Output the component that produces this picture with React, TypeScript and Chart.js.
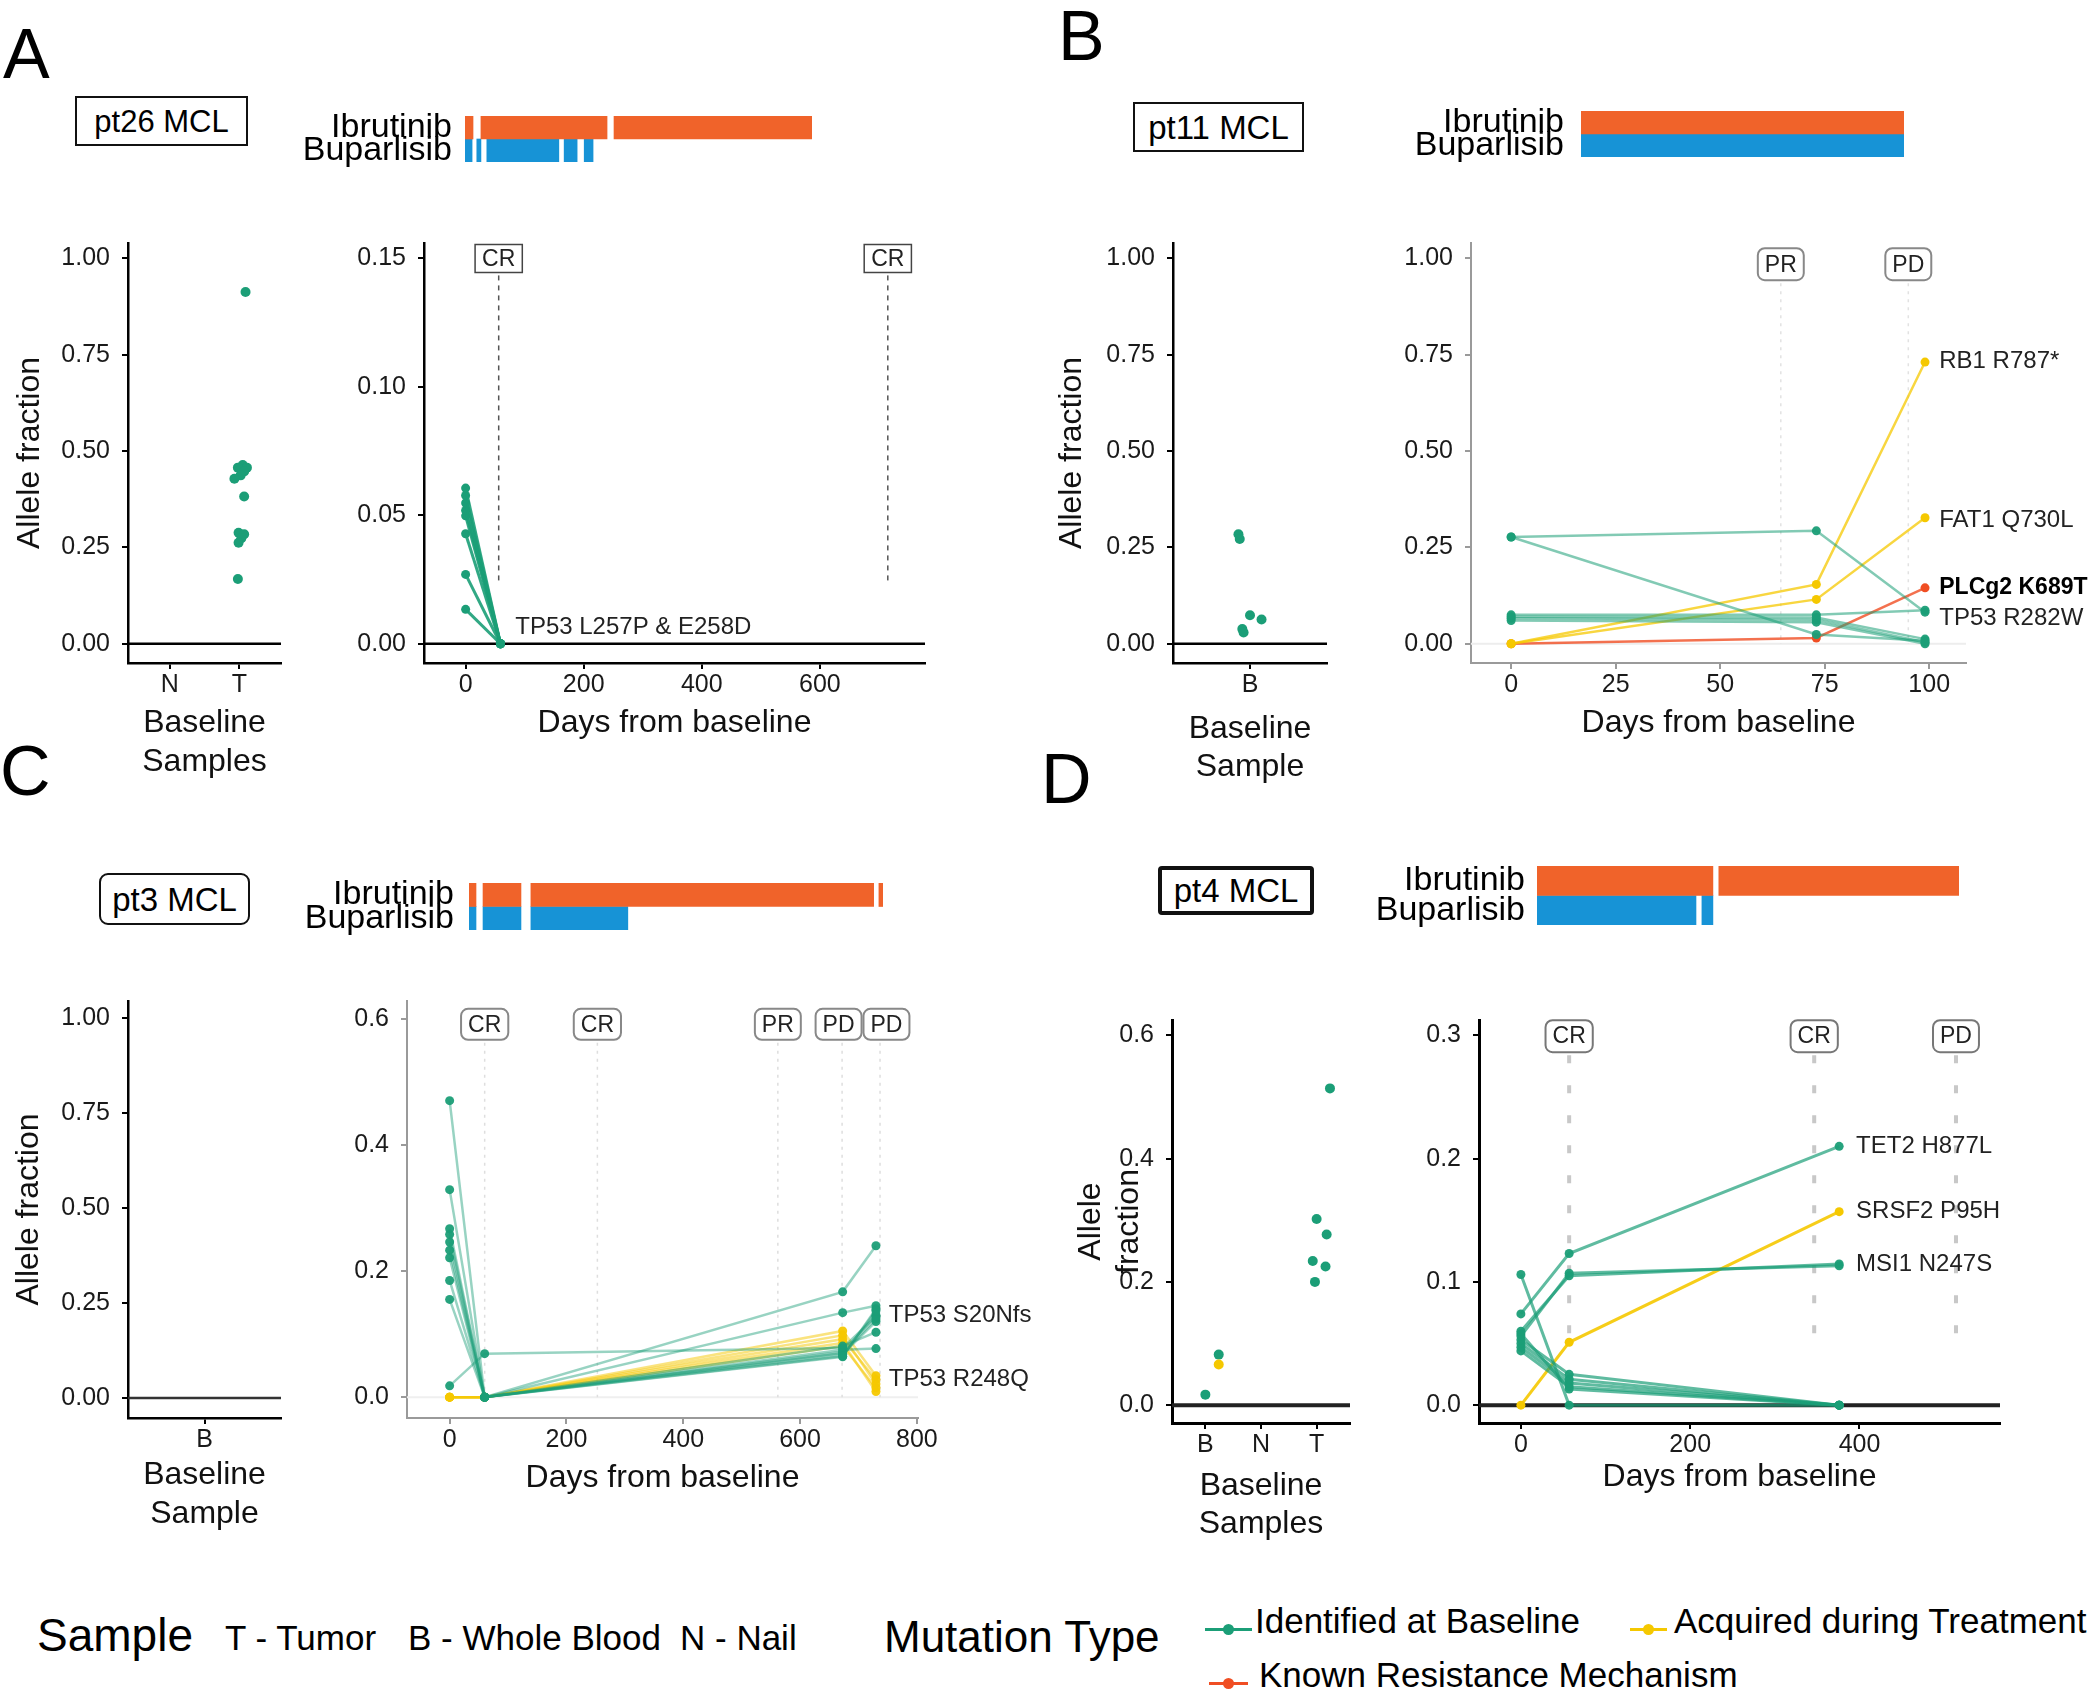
import React, { useEffect, useRef } from 'react';
import { Chart, registerables } from 'chart.js';

Chart.register(...registerables);

const FONT = "'Liberation Sans', Arial, Helvetica, sans-serif";
Chart.defaults.font.family = FONT;

// ---------------- colours ----------------
const GREEN = [27, 158, 119];
const YELLOW = [245, 200, 0];
const RED = [240, 78, 35];
const IBRU_COLOR = '#f0632a';
const BUPA_COLOR = '#1793d6';
const rgba = (c: number[], a: number) => `rgba(${c[0]},${c[1]},${c[2]},${a})`;

// ---------------- shared ----------------
const DRUGS = ['Ibrutinib', 'Buparlisib'];
const AF_TICKS = [0, 0.25, 0.5, 0.75, 1];
const AF_TICK_LABELS = ['0.00', '0.25', '0.50', '0.75', '1.00'];

// ---------------- Panel A : pt26 MCL ----------------
const A_TITLE = 'pt26 MCL';
const A_SAMPLES = ['N', 'T'];
const A_BASE_SAMPLE = ['T', 'T', 'T', 'T', 'T', 'T', 'T', 'T', 'T', 'T', 'T', 'T', 'T'];
const A_BASE_JITTER = [0.09, 0.05, -0.02, 0.11, 0.07, 0.02, -0.07, 0.07, -0.01, 0.07, 0.03, -0.01, -0.02];
const A_BASE_VAF = [0.913, 0.464, 0.457, 0.457, 0.447, 0.437, 0.428, 0.382, 0.288, 0.284, 0.274, 0.262, 0.168];
const A_DAYS = [0, 59];
const A_IDENTIFIED = [
  [0.0606, 0], [0.0577, 0], [0.0548, 0], [0.0519, 0],
  [0.0498, 0], [0.0428, 0], [0.027, 0], [0.0134, 0],
];
const A_Y_TICKS = [0, 0.05, 0.1, 0.15];
const A_Y_LABELS = ['0.00', '0.05', '0.10', '0.15'];
const A_X_TICKS = [0, 200, 400, 600];
const A_X_LABELS = ['0', '200', '400', '600'];
const A_RESP_DAY = [56, 715];
const A_RESP = ['CR', 'CR'];
const A_GENE = ['TP53 L257P & E258D'];
const A_GENE_DAY = [84];
const A_GENE_VAF = [0.0065];
const A_IBRUTINIB = [[0, 13.6], [27, 240.7], [252.5, 588]];
const A_BUPARLISIB = [[0, 12], [20, 27], [37, 159], [168, 190], [202, 217]];
const A_TREAT_SPAN = 588;

// ---------------- Panel B : pt11 MCL ----------------
const B_TITLE = 'pt11 MCL';
const B_SAMPLES = ['B'];
const B_BASE_SAMPLE = ['B', 'B', 'B', 'B', 'B', 'B'];
const B_BASE_JITTER = [-0.09, -0.08, 0.0, 0.09, -0.06, -0.05];
const B_BASE_VAF = [0.284, 0.272, 0.074, 0.063, 0.038, 0.029];
const B_DAYS = [0, 73, 99];
const B_IDENTIFIED = [
  [0.277, 0.293, 0.082], [0.277, 0.024, 0.008], [0.075, 0.075, 0.087],
  [0.07, 0.068, 0.012], [0.066, 0.062, 0.004], [0.06, 0.056, 0.0],
];
const B_ACQUIRED = [[0, 0.154, 0.731], [0, 0.115, 0.327]];
const B_RESISTANCE = [[0, 0.015, 0.145]];
const B_X_TICKS = [0, 25, 50, 75, 100];
const B_X_LABELS = ['0', '25', '50', '75', '100'];
const B_RESP_DAY = [64.5, 95];
const B_RESP = ['PR', 'PD'];
const B_GENE = ['RB1 R787*', 'FAT1 Q730L', 'PLCg2 K689T', 'TP53 R282W'];
const B_GENE_DAY = [102.4, 102.4, 102.4, 102.4];
const B_GENE_VAF = [0.733, 0.32, 0.145, 0.067];
const B_GENE_BOLD = [false, false, true, false];
const B_IBRUTINIB = [[0, 100]];
const B_BUPARLISIB = [[0, 100]];
const B_TREAT_SPAN = 100;

// ---------------- Panel C : pt3 MCL ----------------
const C_TITLE = 'pt3 MCL';
const C_SAMPLES = ['B'];
const C_DAYS = [0, 60, 673, 730];
const C_IDENTIFIED = [
  [0.47, 0, 0.065, 0.137], [0.329, 0, 0.07, 0.124], [0.267, 0, 0.167, 0.24],
  [0.258, 0, 0.134, 0.145], [0.246, 0, 0.081, 0.103], [0.233, 0, 0.075, 0.077],
  [0.221, 0, 0.072, 0.13], [0.185, 0, 0.068, 0.12], [0.155, 0, 0.064, 0.14],
  [0.018, 0.069, 0.078, 0.128],
];
const C_ACQUIRED = [
  [0, 0, 0.105, 0.034], [0, 0, 0.098, 0.021], [0, 0, 0.092, 0.028],
  [0, 0, 0.086, 0.009], [0, 0, 0.081, 0.015],
];
const C_Y_TICKS = [0, 0.2, 0.4, 0.6];
const C_Y_LABELS = ['0.0', '0.2', '0.4', '0.6'];
const C_X_TICKS = [0, 200, 400, 600, 800];
const C_X_LABELS = ['0', '200', '400', '600', '800'];
const C_RESP_DAY = [60, 253, 562, 672, 737];
const C_RESP_LABEL_DAY = [60, 253, 562, 666, 748];
const C_RESP = ['CR', 'CR', 'PR', 'PD', 'PD'];
const C_GENE = ['TP53 S20Nfs', 'TP53 R248Q'];
const C_GENE_DAY = [752, 752];
const C_GENE_VAF = [0.13, 0.028];
const C_IBRUTINIB = [[0, 12], [24, 89], [106, 693], [702, 709]];
const C_BUPARLISIB = [[0, 12], [24, 89], [106, 272]];
const C_TREAT_SPAN = 709;

// ---------------- Panel D : pt4 MCL ----------------
const D_TITLE = 'pt4 MCL';
const D_SAMPLES = ['B', 'N', 'T'];
const D_BASE_SAMPLE = ['B', 'B', 'T', 'T', 'T', 'T', 'T', 'T'];
const D_BASE_JITTER = [0, 0.24, 0.24, 0, 0.18, -0.07, 0.16, -0.03];
const D_BASE_VAF = [0.017, 0.082, 0.514, 0.302, 0.277, 0.234, 0.225, 0.2];
const D_BASE_ACQ_SAMPLE = ['B'];
const D_BASE_ACQ_JITTER = [0.24];
const D_BASE_ACQ_VAF = [0.066];
const D_DAYS = [0, 57, 376];
const D_IDENTIFIED = [
  [0.074, 0.123, 0.21], [0.06, 0.105, 0.1145], [0.056, 0.107, 0.113],
  [0.106, 0, 0], [0.053, 0.025, 0], [0.05, 0.021, 0], [0.047, 0.018, 0],
  [0.044, 0.015, 0], [0.058, 0.013, 0],
];
const D_ACQUIRED = [[0, 0.051, 0.157]];
const D_BASE_Y_TICKS = [0, 0.2, 0.4, 0.6];
const D_BASE_Y_LABELS = ['0.0', '0.2', '0.4', '0.6'];
const D_Y_TICKS = [0, 0.1, 0.2, 0.3];
const D_Y_LABELS = ['0.0', '0.1', '0.2', '0.3'];
const D_X_TICKS = [0, 200, 400];
const D_X_LABELS = ['0', '200', '400'];
const D_RESP_DAY = [57, 346.5, 514];
const D_RESP = ['CR', 'CR', 'PD'];
const D_GENE = ['TET2 H877L', 'SRSF2 P95H', 'MSI1 N247S'];
const D_GENE_DAY = [396, 396, 396];
const D_GENE_VAF = [0.21, 0.1575, 0.1145];
const D_IBRUTINIB = [[0, 208], [215, 499]];
const D_BUPARLISIB = [[0, 188], [195, 208]];
const D_TREAT_SPAN = 499;

// ---------------- helpers ----------------
type Rect = { x: number; y: number; w: number; h: number };
type Area = { L: number; T: number; R: number; B: number };
type Stroke = { color: string; width: number };
type SeriesStyle = { lineAlpha: number; pointAlpha: number; width: number; radius: number };

function series(days: number[], rows: number[][], color: number[], st: SeriesStyle) {
  return rows.map((vals) => ({
    data: days.map((d, i) => ({ x: d, y: vals[i] })),
    showLine: true,
    borderColor: rgba(color, st.lineAlpha),
    backgroundColor: rgba(color, st.pointAlpha),
    pointBackgroundColor: rgba(color, st.pointAlpha),
    borderWidth: st.width,
    pointRadius: st.radius,
    pointHoverRadius: st.radius,
    pointBorderWidth: 0,
    tension: 0,
    clip: false,
  }));
}

function jitter(samples: string[], sampleOf: string[], offsets: number[], vafs: number[], color: number[], radius: number) {
  return {
    data: vafs.map((v, i) => ({ x: samples.indexOf(sampleOf[i]) + 1 + offsets[i], y: v })),
    showLine: false,
    backgroundColor: rgba(color, 1),
    pointBackgroundColor: rgba(color, 1),
    pointBorderWidth: 0,
    pointRadius: radius,
    pointHoverRadius: radius,
    clip: false,
  };
}

interface RespSpec {
  lineDays: number[]; labelDays: number[]; labels: string[];
  labelVaf: number; lineEndVaf: number;
  lineColor: string; lineWidth: number; dash: number[];
  boxH: number; radius: number; boxBorder: string; boxBorderWidth: number;
}
interface GeneSpec { labels: string[]; days: number[]; vafs: number[]; bold?: boolean[] }
interface AxisSpec { min: number; max: number; ticks: number[]; labels: string[]; title?: string[]; titlePad?: number }
interface PlotSpec {
  canvas: Rect; area: Area; x: AxisSpec; y: AxisSpec;
  axis: Stroke; zero: Stroke; datasets: any[]; resp?: RespSpec; genes?: GeneSpec;
}

const lab = (ax: AxisSpec, v: number) => {
  const i = ax.ticks.indexOf(v);
  return i >= 0 ? ax.labels[i] : '';
};

function annotPlugin(s: PlotSpec) {
  return {
    id: 'annot',
    beforeDatasetsDraw(chart: any) {
      const { ctx, chartArea: a } = chart;
      const xs = chart.scales.x;
      const ys = chart.scales.y;
      ctx.save();
      const zy = ys.getPixelForValue(0);
      ctx.strokeStyle = s.zero.color;
      ctx.lineWidth = s.zero.width;
      ctx.beginPath();
      ctx.moveTo(a.left, zy);
      ctx.lineTo(a.right, zy);
      ctx.stroke();
      if (s.resp) {
        const r = s.resp;
        ctx.strokeStyle = r.lineColor;
        ctx.lineWidth = r.lineWidth;
        ctx.setLineDash(r.dash);
        const top = ys.getPixelForValue(r.labelVaf) + r.boxH / 2 + 3;
        const bot = ys.getPixelForValue(r.lineEndVaf);
        r.lineDays.forEach((d) => {
          const px = xs.getPixelForValue(d);
          ctx.beginPath();
          ctx.moveTo(px, top);
          ctx.lineTo(px, bot);
          ctx.stroke();
        });
      }
      ctx.restore();
    },
    afterDatasetsDraw(chart: any) {
      const { ctx } = chart;
      const xs = chart.scales.x;
      const ys = chart.scales.y;
      ctx.save();
      if (s.resp) {
        const r = s.resp;
        ctx.font = `23px ${FONT}`;
        ctx.textAlign = 'center';
        ctx.textBaseline = 'middle';
        r.labels.forEach((t, i) => {
          const px = xs.getPixelForValue(r.labelDays[i]);
          const py = ys.getPixelForValue(r.labelVaf);
          const w = ctx.measureText(t).width + 14;
          ctx.beginPath();
          if (r.radius > 0 && (ctx as any).roundRect) (ctx as any).roundRect(px - w / 2, py - r.boxH / 2, w, r.boxH, r.radius);
          else ctx.rect(px - w / 2, py - r.boxH / 2, w, r.boxH);
          ctx.fillStyle = '#ffffff';
          ctx.fill();
          ctx.strokeStyle = r.boxBorder;
          ctx.lineWidth = r.boxBorderWidth;
          ctx.stroke();
          ctx.fillStyle = '#222';
          ctx.fillText(t, px, py + 1);
        });
      }
      if (s.genes) {
        const g = s.genes;
        ctx.textAlign = 'left';
        ctx.textBaseline = 'middle';
        g.labels.forEach((t, i) => {
          const bold = g.bold ? g.bold[i] : false;
          ctx.font = `${bold ? 'bold 23px' : '24px'} ${FONT}`;
          ctx.fillStyle = bold ? '#000' : '#222';
          ctx.fillText(t, xs.getPixelForValue(g.days[i]), ys.getPixelForValue(g.vafs[i]));
        });
      }
      ctx.restore();
    },
  };
}

function plotConfig(s: PlotSpec) {
  const yw = s.area.L - s.canvas.x;
  const xh = s.canvas.y + s.canvas.h - s.area.B;
  const tickFont = { family: FONT, size: 25 };
  const titleFont = { family: FONT, size: 32 };
  return {
    type: 'scatter',
    data: { datasets: s.datasets },
    options: {
      responsive: false,
      animation: false,
      devicePixelRatio: 1,
      events: [],
      layout: {
        autoPadding: false,
        padding: { left: 0, top: s.area.T - s.canvas.y, right: s.canvas.x + s.canvas.w - s.area.R, bottom: 0 },
      },
      plugins: { legend: { display: false }, tooltip: { enabled: false } },
      scales: {
        x: {
          type: 'linear',
          min: s.x.min,
          max: s.x.max,
          afterBuildTicks: (sc: any) => { sc.ticks = s.x.ticks.map((v) => ({ value: v })); },
          afterFit: (sc: any) => { sc.height = xh; },
          ticks: {
            font: tickFont, color: '#1a1a1a', padding: 1, maxRotation: 0, minRotation: 0, autoSkip: false,
            callback: (v: number) => lab(s.x, v),
          },
          grid: { drawOnChartArea: false, drawTicks: true, tickLength: 6, color: s.axis.color, lineWidth: 2 },
          border: { display: true, color: s.axis.color, width: s.axis.width },
          title: {
            display: !!s.x.title, text: s.x.title, font: titleFont, color: '#111',
            padding: { top: 0, bottom: s.x.titlePad || 0 },
          },
        },
        y: {
          type: 'linear',
          min: s.y.min,
          max: s.y.max,
          afterBuildTicks: (sc: any) => { sc.ticks = s.y.ticks.map((v) => ({ value: v })); },
          afterFit: (sc: any) => { sc.width = yw; },
          ticks: {
            font: tickFont, color: '#1a1a1a', padding: 12, autoSkip: false,
            callback: (v: number) => lab(s.y, v),
          },
          grid: { drawOnChartArea: false, drawTicks: true, tickLength: 6, color: s.axis.color, lineWidth: 2 },
          border: { display: true, color: s.axis.color, width: s.axis.width },
          title: {
            display: !!s.y.title, text: s.y.title, font: titleFont, color: '#111',
            padding: { top: s.y.titlePad || 0, bottom: 0 },
          },
        },
      },
    },
    plugins: [annotPlugin(s)],
  };
}

interface TreatSpec { canvas: Rect; area: Area; span: number; ibru: number[][]; bupa: number[][]; labelPad: number }

function treatConfig(t: TreatSpec) {
  const mk = (row: number, segs: number[][], color: string) =>
    segs.map((seg) => ({
      data: DRUGS.map((_, i) => (i === row ? seg : null)),
      backgroundColor: color,
      borderWidth: 0,
      borderSkipped: false,
      grouped: false,
      barPercentage: 1,
      categoryPercentage: 1,
    }));
  return {
    type: 'bar',
    data: { labels: DRUGS, datasets: [...mk(0, t.ibru, IBRU_COLOR), ...mk(1, t.bupa, BUPA_COLOR)] },
    options: {
      indexAxis: 'y',
      responsive: false,
      animation: false,
      devicePixelRatio: 1,
      events: [],
      layout: {
        autoPadding: false,
        padding: {
          left: 0,
          top: t.area.T - t.canvas.y,
          right: t.canvas.x + t.canvas.w - t.area.R,
          bottom: t.canvas.y + t.canvas.h - t.area.B,
        },
      },
      plugins: { legend: { display: false }, tooltip: { enabled: false } },
      scales: {
        x: { type: 'linear', display: false, min: 0, max: t.span },
        y: {
          type: 'category',
          afterFit: (sc: any) => { sc.width = t.area.L - t.canvas.x; },
          grid: { display: false, drawTicks: false },
          border: { display: false },
          ticks: { font: { family: FONT, size: 34 }, color: '#000', padding: t.labelPad, autoSkip: false },
        },
      },
    },
  };
}

function ChartCanvas({ rect, make }: { rect: Rect; make: () => any }) {
  const ref = useRef<HTMLCanvasElement | null>(null);
  useEffect(() => {
    if (!ref.current) return;
    const chart = new Chart(ref.current, make());
    return () => chart.destroy();
  }, []);
  return (
    <canvas
      ref={ref}
      width={rect.w}
      height={rect.h}
      style={{ position: 'absolute', left: rect.x, top: rect.y, width: rect.w, height: rect.h, display: 'block' }}
    />
  );
}

// ---------------- plot definitions ----------------
const BLACK: Stroke = { color: '#000', width: 2.5 };
const GRAY_AXIS: Stroke = { color: '#9a9a9a', width: 2 };

const PLOTS: PlotSpec[] = [
  // A baseline
  {
    canvas: { x: 0, y: 213, w: 300, h: 573 },
    area: { L: 128, T: 243, R: 281, B: 663 },
    x: { min: 0.4, max: 2.6, ticks: A_SAMPLES.map((_, i) => i + 1), labels: A_SAMPLES, title: ['Baseline', 'Samples'], titlePad: 4.8 },
    y: { min: -0.05, max: 1.04, ticks: AF_TICKS, labels: AF_TICK_LABELS, title: ['Allele fraction'], titlePad: 10.8 },
    axis: BLACK, zero: BLACK,
    datasets: [jitter(A_SAMPLES, A_BASE_SAMPLE, A_BASE_JITTER, A_BASE_VAF, GREEN, 5)],
  },
  // A time
  {
    canvas: { x: 330, y: 213, w: 710, h: 534 },
    area: { L: 424, T: 243, R: 925, B: 663 },
    x: { min: -70.5, max: 778, ticks: A_X_TICKS, labels: A_X_LABELS, title: ['Days from baseline'], titlePad: 4.8 },
    y: { min: -0.0075, max: 0.156, ticks: A_Y_TICKS, labels: A_Y_LABELS },
    axis: BLACK, zero: BLACK,
    datasets: series(A_DAYS, A_IDENTIFIED, GREEN, { lineAlpha: 0.9, pointAlpha: 1, width: 3, radius: 4.5 }),
    resp: {
      lineDays: A_RESP_DAY, labelDays: A_RESP_DAY, labels: A_RESP, labelVaf: 0.15, lineEndVaf: 0.0238,
      lineColor: '#555', lineWidth: 1.5, dash: [5, 5], boxH: 28, radius: 0, boxBorder: '#444', boxBorderWidth: 1.5,
    },
    genes: { labels: A_GENE, days: A_GENE_DAY, vafs: A_GENE_VAF },
  },
  // B baseline
  {
    canvas: { x: 1045, y: 213, w: 300, h: 579 },
    area: { L: 1173, T: 243, R: 1327, B: 663 },
    x: { min: 0.4, max: 1.6, ticks: [1], labels: B_SAMPLES, title: ['Baseline', 'Sample'], titlePad: 5.3 },
    y: { min: -0.05, max: 1.04, ticks: AF_TICKS, labels: AF_TICK_LABELS, title: ['Allele fraction'], titlePad: 7.8 },
    axis: BLACK, zero: BLACK,
    datasets: [jitter(B_SAMPLES, B_BASE_SAMPLE, B_BASE_JITTER, B_BASE_VAF, GREEN, 5)],
  },
  // B time
  {
    canvas: { x: 1360, y: 213, w: 740, h: 534 },
    area: { L: 1471, T: 243, R: 1966, B: 663 },
    x: { min: -9.6, max: 108.8, ticks: B_X_TICKS, labels: B_X_LABELS, title: ['Days from baseline'], titlePad: 4.8 },
    y: { min: -0.05, max: 1.04, ticks: AF_TICKS, labels: AF_TICK_LABELS },
    axis: GRAY_AXIS, zero: { color: '#ededed', width: 2 },
    datasets: [
      ...series(B_DAYS, B_IDENTIFIED, GREEN, { lineAlpha: 0.55, pointAlpha: 0.95, width: 2.5, radius: 4.5 }),
      ...series(B_DAYS, B_ACQUIRED, YELLOW, { lineAlpha: 0.75, pointAlpha: 1, width: 2.5, radius: 4.5 }),
      ...series(B_DAYS, B_RESISTANCE, RED, { lineAlpha: 0.8, pointAlpha: 1, width: 2.5, radius: 4.5 }),
    ],
    resp: {
      lineDays: B_RESP_DAY, labelDays: B_RESP_DAY, labels: B_RESP, labelVaf: 0.985, lineEndVaf: 0.0,
      lineColor: '#e2e2e2', lineWidth: 1.5, dash: [3, 5], boxH: 32, radius: 7, boxBorder: '#888', boxBorderWidth: 2,
    },
    genes: { labels: B_GENE, days: B_GENE_DAY, vafs: B_GENE_VAF, bold: B_GENE_BOLD },
  },
  // C baseline
  {
    canvas: { x: 0, y: 970, w: 300, h: 568 },
    area: { L: 128, T: 1001, R: 281, B: 1418 },
    x: { min: 0.4, max: 1.6, ticks: [1], labels: C_SAMPLES, title: ['Baseline', 'Sample'], titlePad: 4.8 },
    y: { min: -0.0527, max: 1.046, ticks: AF_TICKS, labels: AF_TICK_LABELS, title: ['Allele fraction'], titlePad: 9.8 },
    axis: BLACK, zero: { color: '#333', width: 2.5 },
    datasets: [],
  },
  // C time
  {
    canvas: { x: 320, y: 970, w: 720, h: 532 },
    area: { L: 407, T: 1001, R: 918, B: 1418 },
    x: { min: -73, max: 802, ticks: C_X_TICKS, labels: C_X_LABELS, title: ['Days from baseline'], titlePad: 5.1 },
    y: { min: -0.033, max: 0.628, ticks: C_Y_TICKS, labels: C_Y_LABELS },
    axis: GRAY_AXIS, zero: { color: '#efefef', width: 2 },
    datasets: [
      ...series(C_DAYS, C_IDENTIFIED, GREEN, { lineAlpha: 0.45, pointAlpha: 0.95, width: 2.5, radius: 4.5 }),
      ...series(C_DAYS, C_ACQUIRED, YELLOW, { lineAlpha: 0.5, pointAlpha: 0.95, width: 2.5, radius: 4.5 }),
    ],
    resp: {
      lineDays: C_RESP_DAY, labelDays: C_RESP_LABEL_DAY, labels: C_RESP, labelVaf: 0.591, lineEndVaf: 0.0,
      lineColor: '#dedede', lineWidth: 1.5, dash: [3, 5], boxH: 31, radius: 7, boxBorder: '#888', boxBorderWidth: 2,
    },
    genes: { labels: C_GENE, days: C_GENE_DAY, vafs: C_GENE_VAF },
  },
  // D baseline
  {
    canvas: { x: 1060, y: 990, w: 300, h: 559 },
    area: { L: 1172, T: 1020, R: 1350, B: 1423 },
    x: { min: 0.4, max: 3.6, ticks: D_SAMPLES.map((_, i) => i + 1), labels: D_SAMPLES, title: ['Baseline', 'Samples'], titlePad: 5.3 },
    y: { min: -0.029, max: 0.625, ticks: D_BASE_Y_TICKS, labels: D_BASE_Y_LABELS, title: ['Allele', 'fraction'], titlePad: 11.8 },
    axis: { color: '#000', width: 3 }, zero: { color: '#222', width: 4 },
    datasets: [
      jitter(D_SAMPLES, D_BASE_ACQ_SAMPLE, D_BASE_ACQ_JITTER, D_BASE_ACQ_VAF, YELLOW, 5),
      jitter(D_SAMPLES, D_BASE_SAMPLE, D_BASE_JITTER, D_BASE_VAF, GREEN, 5),
    ],
  },
  // D time
  {
    canvas: { x: 1370, y: 990, w: 730, h: 511 },
    area: { L: 1479, T: 1020, R: 2000, B: 1423 },
    x: { min: -49.5, max: 566, ticks: D_X_TICKS, labels: D_X_LABELS, title: ['Days from baseline'], titlePad: 4.8 },
    y: { min: -0.0145, max: 0.3125, ticks: D_Y_TICKS, labels: D_Y_LABELS },
    axis: { color: '#000', width: 3 }, zero: { color: '#222', width: 4 },
    datasets: [
      ...series(D_DAYS, D_IDENTIFIED, GREEN, { lineAlpha: 0.7, pointAlpha: 0.95, width: 3, radius: 4.5 }),
      ...series(D_DAYS, D_ACQUIRED, YELLOW, { lineAlpha: 0.9, pointAlpha: 1, width: 3, radius: 4.5 }),
    ],
    resp: {
      lineDays: D_RESP_DAY, labelDays: D_RESP_DAY, labels: D_RESP, labelVaf: 0.2994, lineEndVaf: 0.053,
      lineColor: '#c8c8c8', lineWidth: 4, dash: [8, 22], boxH: 32, radius: 7, boxBorder: '#777', boxBorderWidth: 2,
    },
    genes: { labels: D_GENE, days: D_GENE_DAY, vafs: D_GENE_VAF },
  },
];

// canvases are taller than the bar area so the tick-label overflow padding never squeezes the bars
const TREATS: TreatSpec[] = [
  { canvas: { x: 280, y: 66, w: 550, h: 148 }, area: { L: 465, T: 116, R: 812, B: 162 }, span: A_TREAT_SPAN, ibru: A_IBRUTINIB, bupa: A_BUPARLISIB, labelPad: 13 },
  { canvas: { x: 1380, y: 61, w: 545, h: 148 }, area: { L: 1581, T: 111, R: 1904, B: 157 }, span: B_TREAT_SPAN, ibru: B_IBRUTINIB, bupa: B_BUPARLISIB, labelPad: 17 },
  { canvas: { x: 280, y: 833, w: 620, h: 149 }, area: { L: 469, T: 883, R: 883, B: 930 }, span: C_TREAT_SPAN, ibru: C_IBRUTINIB, bupa: C_BUPARLISIB, labelPad: 15 },
  { canvas: { x: 1340, y: 816, w: 640, h: 161 }, area: { L: 1537, T: 866, R: 1959, B: 925 }, span: D_TREAT_SPAN, ibru: D_IBRUTINIB, bupa: D_BUPARLISIB, labelPad: 12 },
];

// ---------------- HTML text helpers ----------------
function Txt({ x, top, size, children, bold }: { x: number; top: number; size: number; children: any; bold?: boolean }) {
  return (
    <div style={{ position: 'absolute', left: x, top, fontSize: size, lineHeight: 1, whiteSpace: 'nowrap', fontWeight: bold ? 700 : 400, color: '#000' }}>
      {children}
    </div>
  );
}

function PtBox({ x, y, w, h, border, radius, size, children }: any) {
  return (
    <div style={{
      position: 'absolute', left: x, top: y, width: w, height: h, boxSizing: 'border-box',
      border: `${border}px solid #111`, borderRadius: radius, display: 'flex', alignItems: 'center',
      justifyContent: 'center', fontSize: size, lineHeight: 1, whiteSpace: 'nowrap', color: '#000',
    }}>
      {children}
    </div>
  );
}

function Key({ x1, x2, y, color }: { x1: number; x2: number; y: number; color: string }) {
  const cx = (x1 + x2) / 2;
  return (
    <>
      <div style={{ position: 'absolute', left: x1, top: y - 1.5, width: x2 - x1, height: 3, background: color }} />
      <div style={{ position: 'absolute', left: cx - 5.5, top: y - 5.5, width: 11, height: 11, borderRadius: '50%', background: color }} />
    </>
  );
}

export default function App() {
  return (
    <div style={{ position: 'absolute', left: 0, top: 0, width: 2100, height: 1696, background: '#fff', fontFamily: FONT, overflow: 'hidden' }}>
      <Txt x={3} top={19} size={70}>A</Txt>
      <Txt x={1058} top={1} size={70}>B</Txt>
      <Txt x={0} top={736} size={70}>C</Txt>
      <Txt x={1041} top={744} size={70}>D</Txt>

      <PtBox x={75} y={96} w={173} h={50} border={2.5} radius={0} size={31}>{A_TITLE}</PtBox>
      <PtBox x={1133} y={102} w={171} h={50} border={2.5} radius={0} size={33}>{B_TITLE}</PtBox>
      <PtBox x={99} y={873} w={151} h={52} border={2.5} radius={9} size={33}>{C_TITLE}</PtBox>
      <PtBox x={1158} y={866} w={156} h={49} border={4} radius={4} size={33}>{D_TITLE}</PtBox>

      {TREATS.map((t, i) => (
        <ChartCanvas key={'t' + i} rect={t.canvas} make={() => treatConfig(t)} />
      ))}
      {PLOTS.map((p, i) => (
        <ChartCanvas key={'p' + i} rect={p.canvas} make={() => plotConfig(p)} />
      ))}

      {/* legend */}
      <Txt x={37} top={1612} size={46}>Sample</Txt>
      <Txt x={225} top={1620} size={35}>T - Tumor</Txt>
      <Txt x={408} top={1620} size={35}>B - Whole Blood</Txt>
      <Txt x={680} top={1620} size={35}>N - Nail</Txt>
      <Txt x={884} top={1615} size={44}>Mutation Type</Txt>
      <Key x1={1205} x2={1252} y={1629} color={rgba(GREEN, 1)} />
      <Txt x={1255} top={1603} size={35}>Identified at Baseline</Txt>
      <Key x1={1630} x2={1667} y={1629} color={rgba(YELLOW, 1)} />
      <Txt x={1674} top={1603} size={35}>Acquired during Treatment</Txt>
      <Key x1={1209} x2={1248} y={1683} color={rgba(RED, 1)} />
      <Txt x={1259} top={1657} size={35}>Known Resistance Mechanism</Txt>
    </div>
  );
}
